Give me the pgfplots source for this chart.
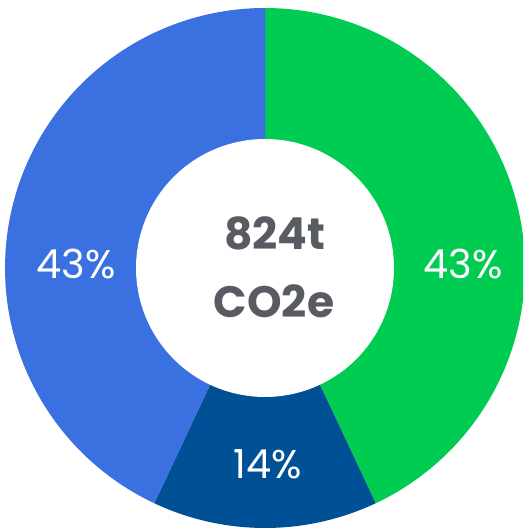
\documentclass[border=0pt]{standalone}
\usepackage{pgfplots}
\pgfplotsset{compat=1.18}
\usepackage{fontspec}
\setmainfont{Poppins}
\definecolor{cgreen}{RGB}{0,204,82}
\definecolor{cblue}{RGB}{58,112,224}
\definecolor{cdark}{RGB}{0,80,150}
\definecolor{cgray}{RGB}{88,92,98}
% slice values (percent)
\def\vA{43}% green
\def\vB{14}% dark blue
\def\vC{43}% blue
\pgfmathsetmacro{\aStart}{90}
\pgfmathsetmacro{\aAend}{90-3.6*\vA}
\pgfmathsetmacro{\aBend}{\aAend-3.6*\vB}
\pgfmathsetmacro{\aCend}{\aBend-3.6*\vC}
\begin{document}
\begin{tikzpicture}
\begin{axis}[
  scale only axis, width=523pt, height=529pt,
  xmin=-265, xmax=258, ymin=-261, ymax=268,
  hide axis, clip=true,
]
\addplot[fill=cgreen, draw=none, domain=\aAend:\aStart, samples=120] ({260*cos(x)},{260*sin(x)}) -- (axis cs:0,0) -- cycle;
\addplot[fill=cdark, draw=none, domain=\aBend:\aAend, samples=60] ({260*cos(x)},{260*sin(x)}) -- (axis cs:0,0) -- cycle;
\addplot[fill=cblue, draw=none, domain=\aCend:\aBend, samples=120] ({260*cos(x)},{260*sin(x)}) -- (axis cs:0,0) -- cycle;
\addplot[fill=white, draw=none, domain=0:360, samples=160] ({129*cos(x)},{129*sin(x)}) -- cycle;
\node[anchor=base, text=cgray, font=\fontsize{44}{48}\selectfont\bfseries] at (axis cs:10,18) {824t};
\node[anchor=base, text=cgray, font=\fontsize{44}{48}\selectfont\bfseries] at (axis cs:9,-50) {CO2e};
\node[anchor=base, text=white, font=\fontsize{40}{44}\selectfont] at (axis cs:-189,-11) {43\%};
\node[anchor=base, text=white, font=\fontsize{40}{44}\selectfont] at (axis cs:198,-11) {43\%};
\node[anchor=base, text=white, font=\fontsize{40}{44}\selectfont] at (axis cs:3,-211) {14\%};
\end{axis}
\pgfresetboundingbox
\path[use as bounding box] (current axis.south west) rectangle (current axis.north east);
\end{tikzpicture}
\end{document}
